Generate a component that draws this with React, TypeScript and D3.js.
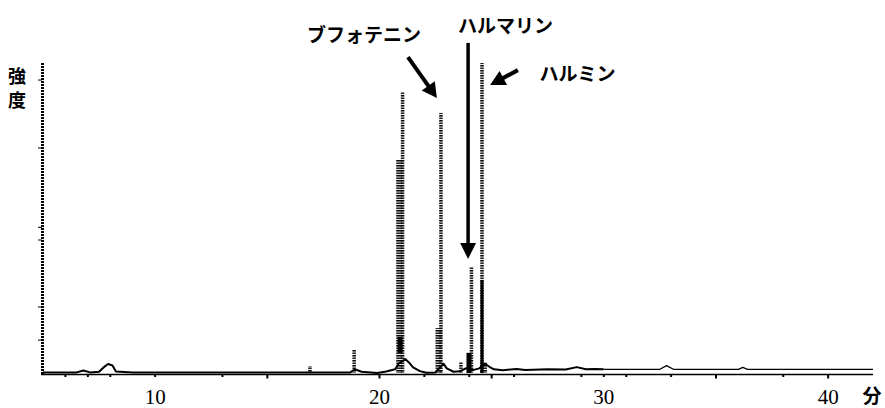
import React from "react";
import * as d3 from "d3";

// ---- data (retention time in minutes, relative intensity 0-100) ----
const traceTime = [5.0, 6.5, 6.8, 7.1, 7.5, 7.7, 7.9, 8.1, 8.25, 9, 12, 15, 18.7, 18.9, 19.2, 19.9, 20.3, 20.7, 20.85, 21.15, 21.3, 21.5, 21.8, 22.1, 22.5, 22.6, 22.85, 23.0, 23.3, 23.6, 23.85, 24.2, 24.45, 24.7, 24.9, 25.1, 25.5, 26.1, 26.5, 27.5, 28.3, 28.8, 29.2, 29.6, 30, 32.5, 32.8, 33.1, 36.0, 36.2, 36.4, 42];
const traceIntensity = [0.2, 0.2, 0.8, 0.2, 0.4, 1.8, 2.9, 2.4, 0.5, 0.2, 0.2, 0.2, 0.2, 1.2, 0.4, 0, 0.5, 1.2, 3, 4.5, 3.5, 1.8, 0.6, 0.1, 0.2, 1, 3, 1.5, 0.4, 0.6, 1.5, 1, 1.5, 3, 2, 1.2, 0.9, 1.3, 1, 1.2, 1.1, 1.9, 1.2, 1.3, 1.2, 1.2, 2.4, 1.2, 1.2, 1.8, 1.2, 1.2];

// peak columns: time, low, high, kind
const peakTime = [16.9, 18.87, 20.88, 21.03, 20.92, 22.63, 22.74, 23.63, 23.99, 24.10, 24.57, 24.57, 24.64];
const peakLow = [0, 0, 0, 0, 6.5, 0, 0, 0, 0, 0, 0, 0, 0];
const peakHigh = [2.2, 7.4, 68.7, 90.6, 11.6, 14.5, 83.9, 3.5, 6.5, 34.2, 100, 30, 3.4];
const peakKind = ["narrow", "narrow", "wide", "narrow", "solid", "wide", "narrow", "narrow", "solid", "narrow", "narrow", "solidThin", "wider"];

const xTickLabels = [10, 20, 30, 40];
const xMinorTicks = [6, 7, 8, 10, 13, 15, 20, 22, 24, 25, 26, 29, 30, 31, 33, 35, 38, 40];
const yMinorTicks = [94.5, 72.6, 47, 42.9, 21.3, 10.6];

// annotations: label text, label position, arrow start/end (time, intensity)
const annLabels = ["ブフォテニン", "ハルマリン", "ハルミン"];
const annLabelT = [19.31, 25.62, 28.83];
const annLabelI = [109.4, 112.3, 96.8];
const annFromT = [21.27, 23.95, 26.17];
const annFromI = [101.9, 106.5, 97.7];
const annToT = [22.56, 23.95, 24.93];
const annToI = [88.7, 36.8, 92.9];

const W = 885;
const H = 408;

export default function App() {
  const x = d3.scaleLinear().domain([5, 42]).range([43, 873]);
  const y = d3.scaleLinear().domain([0, 100]).range([373, 63]);
  const axisY = 374.5;

  const pts = traceTime.map((t, i) => [t, traceIntensity[i]] as [number, number]);
  const line = d3
    .line<[number, number]>()
    .x((d) => x(d[0]))
    .y((d) => y(d[1]));
  const early = pts.filter((d) => d[0] <= 30);
  const late = pts.filter((d) => d[0] >= 30);

  const widthOf: Record<string, number> = {
    narrow: 3.5,
    wide: 6,
    wider: 7,
    solid: 5,
    solidThin: 3,
  };

  const cjk = "'Noto Sans CJK JP', 'Noto Sans', sans-serif";
  const serif = "'Liberation Serif', 'DejaVu Serif', serif";

  const arrowHead = (x1: number, y1: number, x2: number, y2: number, len: number, half: number) => {
    const dx = x2 - x1;
    const dy = y2 - y1;
    const L = Math.hypot(dx, dy);
    const ux = dx / L;
    const uy = dy / L;
    const bx = x2 - ux * len;
    const by = y2 - uy * len;
    const px = -uy;
    const py = ux;
    return `M${x2},${y2}L${bx + px * half},${by + py * half}L${bx - px * half},${by - py * half}Z`;
  };

  return (
    <svg
      width={W}
      height={H}
      viewBox={`0 0 ${W} ${H}`}
      style={{ position: "absolute", left: 0, top: 0, background: "#fff" }}
    >
      <defs>
        <pattern id="stripes" patternUnits="userSpaceOnUse" width="8" height="2.5">
          <rect x="0" y="0" width="8" height="1.5" fill="#000" />
        </pattern>
      </defs>
      <rect x={0} y={0} width={W} height={H} fill="#fff" />

      {/* y axis (dashed) */}
      <line x1={42.5} x2={42.5} y1={y(100)} y2={axisY} stroke="#000" strokeWidth={3} strokeDasharray="2 1" />
      {yMinorTicks.map((v, i) => (
        <line key={i} x1={x(5) - 5} x2={x(5) - 1} y1={y(v)} y2={y(v)} stroke="#000" strokeWidth={1} />
      ))}

      {/* x axis */}
      <line x1={41} x2={x(42)} y1={axisY} y2={axisY} stroke="#000" strokeWidth={1.6} />
      {xMinorTicks.map((t, i) => (
        <line key={i} x1={x(t)} x2={x(t)} y1={axisY} y2={axisY + (t % 5 === 0 && t !== 10 && t !== 30 ? 4 : 2.5)} stroke="#000" strokeWidth={2} />
      ))}
      {xTickLabels.map((t) => (
        <text key={t} x={x(t)} y={404} textAnchor="middle" fontFamily={serif} fontSize={21} fill="#000">
          {t}
        </text>
      ))}
      <text x={872} y={403} textAnchor="middle" fontFamily={cjk} fontWeight={700} fontSize={19} fill="#000">
        分
      </text>

      {/* y label */}
      <text x={17} y={83} textAnchor="middle" fontFamily={cjk} fontWeight={700} fontSize={18} fill="#000">
        強
      </text>
      <text x={17} y={107} textAnchor="middle" fontFamily={cjk} fontWeight={700} fontSize={18} fill="#000">
        度
      </text>

      {/* baseline trace */}
      <path d={line(early) || ""} fill="none" stroke="#000" strokeWidth={2} strokeLinejoin="round" />
      <path d={line(late) || ""} fill="none" stroke="#000" strokeWidth={1.3} strokeLinejoin="round" />

      {/* peak columns */}
      {peakTime.map((t, i) => {
        const w = widthOf[peakKind[i]];
        const solid = peakKind[i].startsWith("solid");
        return (
          <rect
            key={i}
            x={x(t) - w / 2}
            y={y(peakHigh[i])}
            width={w}
            height={y(peakLow[i]) - y(peakHigh[i])}
            fill={solid ? "#000" : "url(#stripes)"}
          />
        );
      })}

      {/* annotations */}
      {annLabels.map((s, i) => {
        const x1 = x(annFromT[i]);
        const y1 = y(annFromI[i]);
        const x2 = x(annToT[i]);
        const y2 = y(annToI[i]);
        const L = Math.hypot(x2 - x1, y2 - y1);
        const headLen = i === 1 ? 16 : 15;
        const sx = x2 - ((x2 - x1) / L) * (headLen - 2);
        const sy = y2 - ((y2 - y1) / L) * (headLen - 2);
        return (
          <g key={i}>
            <line x1={x1} y1={y1} x2={sx} y2={sy} stroke="#000" strokeWidth={i === 1 ? 3.5 : 4} />
            <path d={arrowHead(x1, y1, x2, y2, headLen, 8)} fill="#000" />
            <text
              x={x(annLabelT[i])}
              y={y(annLabelI[i])}
              textAnchor="middle"
              dominantBaseline="central"
              fontFamily={cjk}
              fontWeight={700}
              fontSize={19}
              fill="#000"
            >
              {s}
            </text>
          </g>
        );
      })}
    </svg>
  );
}
